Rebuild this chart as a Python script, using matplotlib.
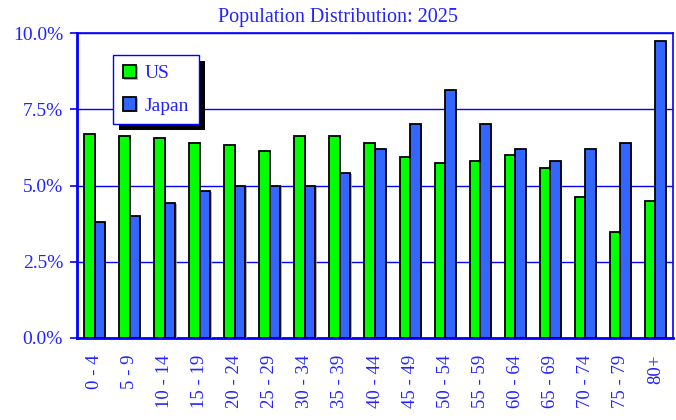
import numpy as np
import matplotlib.pyplot as plt
import matplotlib.patheffects as pe

age_groups = ["0 - 4", "5 - 9", "10 - 14", "15 - 19", "20 - 24", "25 - 29", "30 - 34",
              "35 - 39", "40 - 44", "45 - 49", "50 - 54", "55 - 59", "60 - 64",
              "65 - 69", "70 - 74", "75 - 79", "80+"]
us = [6.69, 6.62, 6.56, 6.40, 6.34, 6.13, 6.62, 6.62, 6.40, 5.92, 5.73, 5.79,
      6.00, 5.58, 4.62, 3.47, 4.49]
japan = [3.81, 4.01, 4.44, 4.83, 4.98, 4.98, 4.98, 5.41, 6.20, 7.02, 8.13, 7.02,
         6.20, 5.79, 6.20, 6.40, 9.75]
y_ticks = [0, 2.5, 5.0, 7.5, 10.0]

text_blue = "#2222ff"
plt.rcParams['font.family'] = ['Liberation Serif', 'DejaVu Serif']

fig = plt.figure(figsize=(6.76, 4.2), dpi=100)
ax = fig.add_axes([77/676, 1 - 338/420, 596/676, 305/420])

x = np.arange(len(age_groups))
w = 0.3
shadow = [pe.SimplePatchShadow(offset=(1, -1), shadow_rgbFace='#999999', alpha=0.8), pe.Normal()]
ax.bar(x - w/2, us, w, color="#00ff00", edgecolor="black", linewidth=1.3,
       label="US", zorder=3, path_effects=shadow)
ax.bar(x + w/2, japan, w, color="#3366ff", edgecolor="black", linewidth=1.3,
       label="Japan", zorder=3, path_effects=shadow)

ax.set_xlim(-0.5, len(age_groups) - 0.5)
ax.set_ylim(0, 10)
ax.set_yticks(y_ticks)
ax.set_yticklabels([f"{v:.1f}%" for v in y_ticks], fontsize=14, color=text_blue)
ax.set_xticks(x)
ax.set_xticklabels(age_groups, rotation=90, fontsize=13.5, color=text_blue)
ax.tick_params(axis='x', length=0, pad=12)
ax.tick_params(axis='y', length=5, color='#0000ff', width=1.2, pad=5)
ax.yaxis.grid(True, color='#0000ff', linewidth=1)
ax.set_axisbelow(True)
for s in ax.spines.values():
    s.set_color('#0000ff')
    s.set_linewidth(1.2)
ax.spines['left'].set_linewidth(2)
ax.spines['bottom'].set_linewidth(2)

ax.text((338 - 77) / 596, 1.02, "Population Distribution: 2025", transform=ax.transAxes,
        ha='center', va='bottom', fontsize=14.5, color=text_blue)

leg = ax.legend(loc='upper left', bbox_to_anchor=(36/596, 1 - 22/305), fontsize=14,
                frameon=True, fancybox=False, framealpha=1,
                handlelength=0.7, handleheight=0.7, borderpad=0.5, labelspacing=0.75,
                handletextpad=0.45, borderaxespad=0)
frame = leg.get_frame()
frame.set_edgecolor('#0000ff')
frame.set_linewidth(1)
frame.set_path_effects([pe.SimplePatchShadow(offset=(4.3, -4.3), shadow_rgbFace='black', alpha=1),
                        pe.Normal()])
for t in leg.get_texts():
    t.set_color(text_blue)
leg.set_zorder(5)

fig.savefig("out.png", dpi=100)
